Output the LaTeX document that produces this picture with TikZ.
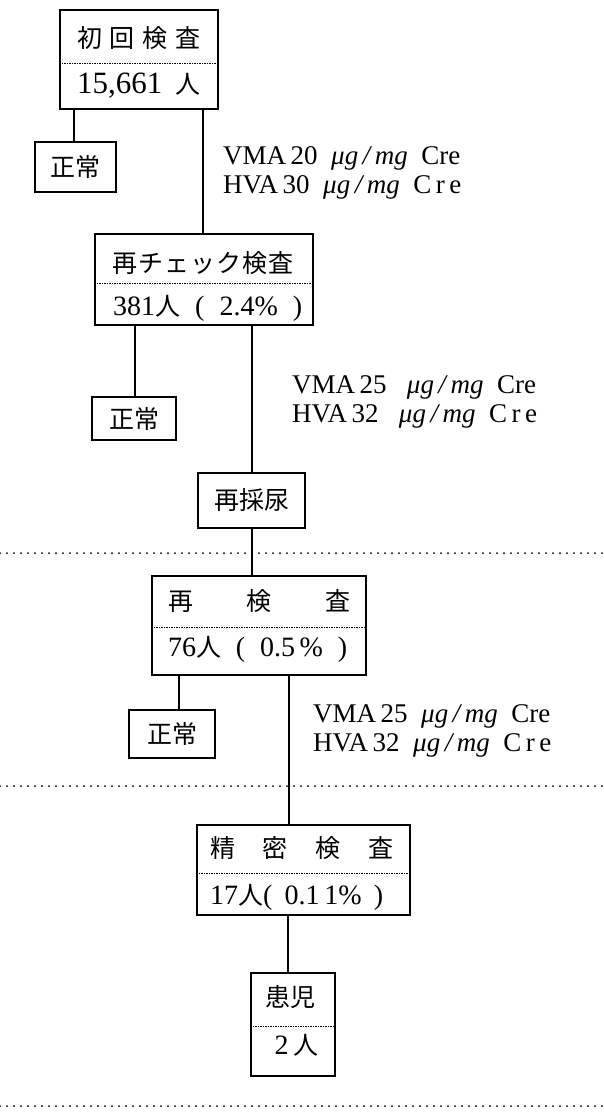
\documentclass[tikz,border=0pt]{standalone}
\usepackage{fontspec}
\setmainfont{Liberation Serif}
\newfontfamily\cjk{Noto Sans CJK JP}
\newcommand{\jn}{\cjk\fontsize{25}{25}\selectfont}
\newcommand{\ugmg}{\textit{μg\,/\,mg}}
\begin{document}
\begin{tikzpicture}[x=1pt,y=-1pt,
  boxst/.style={draw, line width=1.3pt, inner sep=0pt},
  conn/.style={line width=1.1pt},
  divider/.style={line width=1pt, dash pattern=on 1.5pt off 1pt},
  sepline/.style={line width=2pt, line cap=round, dash pattern=on 0pt off 7pt},
  txt/.style={inner sep=0pt, anchor=west},
  cj/.style={font=\jn},
  lat/.style={font=\fontsize{28}{28}\selectfont},
  cond/.style={inner sep=0pt, anchor=west, align=left, font=\fontsize{27}{29}\selectfont}]
\useasboundingbox (0,0) rectangle (604,1112);

% coordinates for connector x positions
\coordinate (x74) at (74,0);
\coordinate (x203) at (203,0);
\coordinate (x135) at (135,0);
\coordinate (x252) at (252,0);
\coordinate (x179) at (179,0);
\coordinate (x289) at (289,0);
\coordinate (x288) at (288,0);

% box 1
\node[boxst, minimum width=158pt, minimum height=99pt] (b1) at (139,59.5) {};
\draw[divider] (b1.west |- 0,63) -- (b1.east |- 0,63);
\node[txt, cj] (b1a) at (77,38) {\makebox[123pt]{初\hfill 回\hfill 検\hfill 査}};
\node[txt, font=\fontsize{31}{31}\selectfont] (b1b) at (77,86) {\makebox[123pt]{15,661\hfill{\jn 人}}};

\node[boxst, cj, minimum width=81pt, minimum height=50pt] (n1) at (75.5,167) {正常};
\node[cond] (v1) at (223,172.5) {VMA\,20\enspace \ugmg\enspace Cre\\HVA\,30\enspace \ugmg\enspace C\,r\,e};

% box 2
\node[boxst, minimum width=218pt, minimum height=91pt] (b2) at (204,279.5) {};
\draw[divider] (b2.west |- 0,283) -- (b2.east |- 0,283);
\node[txt, cj] (b2a) at (112,263) {\makebox[181pt]{再\hfill チ\hfill ェ\hfill ッ\hfill ク\hfill 検\hfill 査}};
\node[txt, lat] (b2b) at (113,308) {\makebox[189pt]{381{\jn 人}\hfill(\hfill 2.4\%\hfill)}};

\node[boxst, cj, minimum width=84pt, minimum height=43pt] (n2) at (134,418.5) {正常};
\node[cond] (v2) at (292,401.5) {VMA\,25\enspace\ \ugmg\enspace Cre\\HVA\,32\enspace\ \ugmg\enspace C\,r\,e};

% re-collection
\node[boxst, cj, minimum width=107pt, minimum height=55pt] (r) at (251.5,500.5) {再採尿};

\draw[sepline] (0,553) -- (604,553);

% box 3
\node[boxst, minimum width=214pt, minimum height=99pt] (b3) at (259,625.5) {};
\draw[divider] (b3.west |- 0,627) -- (b3.east |- 0,627);
\node[txt, cj] (b3a) at (168,601) {\makebox[182pt]{再\hfill 検\hfill 査}};
\node[txt, lat] (b3b) at (168,649) {\makebox[179pt]{76{\jn 人}\hfill(\hfill 0.5\,\%\hfill)}};

\node[boxst, cj, minimum width=86pt, minimum height=48pt] (n3) at (172,734) {正常};
\node[cond] (v3) at (313,730.5) {VMA\,25\enspace \ugmg\enspace Cre\\HVA\,32\enspace \ugmg\enspace C\,r\,e};

\draw[sepline] (0,786) -- (604,786);

% box 4
\node[boxst, minimum width=213pt, minimum height=90pt] (b4) at (303.5,870) {};
\draw[divider] (b4.west |- 0,873) -- (b4.east |- 0,873);
\node[txt, cj] (b4a) at (210,848) {\makebox[183pt]{精\hfill 密\hfill 検\hfill 査}};
\node[txt, lat] (b4b) at (210,897) {\makebox[173pt]{17{\jn 人}(\hfill 0.1\,1\%\hfill)}};

% box 5
\node[boxst, minimum width=84pt, minimum height=103pt] (b5) at (293,1024.5) {};
\draw[divider] (b5.west |- 0,1026) -- (b5.east |- 0,1026);
\node[cj, inner sep=0pt] (b5a) at (290.5,997) {患児};
\node[lat, inner sep=0pt] (b5b) at (296.5,1045) {2\,{\jn 人}};

\draw[sepline] (0,1106) -- (604,1106);

% connectors
\draw[conn] (b1.south -| x74) -- (n1.north -| x74);
\draw[conn] (b1.south -| x203) -- (b2.north -| x203);
\draw[conn] (b2.south -| x135) -- (n2.north -| x135);
\draw[conn] (b2.south -| x252) -- (r.north -| x252);
\draw[conn] (r.south -| x252) -- (b3.north -| x252);
\draw[conn] (b3.south -| x179) -- (n3.north -| x179);
\draw[conn] (b3.south -| x289) -- (b4.north -| x289);
\draw[conn] (b4.south -| x288) -- (b5.north -| x288);
\end{tikzpicture}
\end{document}
